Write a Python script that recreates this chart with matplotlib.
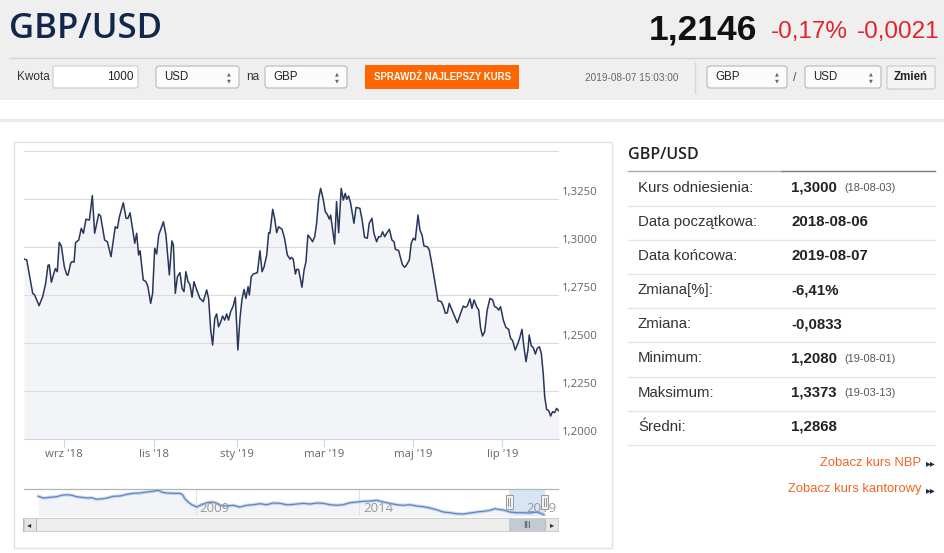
import numpy as np
import matplotlib
matplotlib.use('Agg')
import matplotlib.pyplot as plt
from matplotlib.patches import Rectangle, FancyBboxPatch
from matplotlib.transforms import blended_transform_factory, ScaledTranslation

plt.rcParams['font.family'] = ['Liberation Sans', 'DejaVu Sans']

# ---------- DATA ----------
pair = 'GBP/USD'
last_rate = '1,2146'
change_pct = '-0,17%'
change_abs = '-0,0021'
quote_time = '2019-08-07 15:03:00'

# trading session number (0 = 2018-08-06) and rate
sessions = [0.0, 1.3, 4.1, 5.0, 7.1, 8.8, 10.2, 11.3, 11.9, 12.9, 14.1, 14.8, 15.7, 16.6, 17.6,
            19.0, 20.1, 20.7, 22.0, 22.6, 23.6, 24.3, 25.8, 27.0, 28.0, 29.2, 30.8, 32.2, 33.3,
            35.2, 36.1, 38.0, 39.3, 41.0, 43.0, 44.0, 44.9, 46.8, 48.1, 49.0, 50.0, 52.2, 53.1,
            54.0, 54.7, 56.2, 57.5, 58.4, 59.7, 60.6, 61.6, 62.5,
            63.5, 65.7, 66.9, 68.5, 69.7, 70.4, 71.3, 72.3, 73.5, 74.5, 75.4, 76.3, 77.3, 78.2,
            79.2, 80.1, 81.4, 82.9, 84.5, 86.1, 87.0, 88.0, 88.9, 89.9, 90.8, 91.7, 92.7, 93.6,
            94.6, 95.5, 96.4, 97.4, 98.6, 99.6, 100.8, 101.8, 102.7, 103.7, 104.6, 105.6, 106.2,
            107.1, 108.1, 110.0, 111.2, 112.2, 113.1, 114.4, 115.3, 115.9, 117.2, 118.1, 119.1,
            120.0, 121.6, 122.8, 124.1, 125.4,
            126.0, 126.9, 127.9, 128.5, 129.4, 131.0, 132.0, 132.9, 133.8, 135.1, 136.0, 137.0,
            137.9, 138.9, 139.8, 141.1, 142.0, 142.9, 143.9, 144.5, 145.5, 146.4, 147.3, 148.3,
            149.5, 150.5, 151.4, 152.1, 153.0, 153.9, 154.6, 155.5, 156.5, 158.3, 159.3, 160.5,
            161.8, 162.7, 164.0, 164.9, 166.2, 167.1, 168.1, 169.0, 170.0, 170.9, 172.2, 173.4,
            174.4, 175.0, 176.6, 177.5, 178.4, 179.4, 180.3, 181.6, 182.5, 183.5,
            184.4, 185.7, 186.6, 187.6, 188.5, 190.1, 191.0, 192.3, 193.5, 195.1, 196.7, 197.6,
            198.6, 199.5, 200.4, 201.7, 203.0, 204.2, 205.5, 207.0, 208.0, 208.9, 210.2, 211.1,
            212.1, 213.3, 214.3, 215.2, 216.1, 217.1, 218.3, 219.6, 220.9, 221.8, 222.7, 223.7,
            224.6, 225.9, 227.1, 228.4, 229.3, 230.3, 231.5, 232.8, 233.7, 234.7, 235.6, 236.6,
            237.5, 238.1, 239.1, 240.0, 241.0, 241.9, 242.9, 243.8, 244.7, 245.4, 246.3, 247.3,
            248.2, 249.1, 250.1, 251.0, 252.0]
rates = [1.2939, 1.2934, 1.2760, 1.2752, 1.2696, 1.2743, 1.2812, 1.2906, 1.2909, 1.2818, 1.2865,
         1.2889, 1.2873, 1.3026, 1.3007, 1.2899, 1.2859, 1.2854, 1.2917, 1.2925, 1.2923, 1.3024,
         1.3038, 1.3099, 1.3073, 1.3146, 1.3142, 1.3269, 1.3073, 1.3173, 1.3163, 1.3038, 1.3029,
         1.2951, 1.3107, 1.3099, 1.3156, 1.3232, 1.3151, 1.3151, 1.3180, 1.3021, 1.3073, 1.2960,
         1.2982, 1.2830, 1.2821, 1.2795, 1.2708, 1.2760, 1.2995, 1.2965,
         1.3064, 1.3133, 1.3064, 1.2856, 1.3033, 1.3012, 1.2760, 1.2847, 1.2868, 1.2786, 1.2769,
         1.2873, 1.2821, 1.2807, 1.2740, 1.2821, 1.2778, 1.2734, 1.2717, 1.2778, 1.2734, 1.2569,
         1.2491, 1.2630, 1.2653, 1.2586, 1.2612, 1.2642, 1.2621, 1.2653, 1.2621, 1.2665, 1.2694,
         1.2740, 1.2465, 1.2630, 1.2726, 1.2781, 1.2734, 1.2795, 1.2752, 1.2847, 1.2861, 1.2868,
         1.2982, 1.2873, 1.2896, 1.2960, 1.3076, 1.3073, 1.3198, 1.3151, 1.3076, 1.3107, 1.3094,
         1.3047, 1.2960, 1.2938,
         1.2948, 1.2938, 1.2861, 1.2885, 1.2885, 1.2792, 1.2882, 1.2925, 1.3064, 1.3045, 1.3029,
         1.3055, 1.3125, 1.3255, 1.3307, 1.3246, 1.3185, 1.3172, 1.3147, 1.3168, 1.3090, 1.3017,
         1.3238, 1.3076, 1.3307, 1.3246, 1.3281, 1.3250, 1.3267, 1.3232, 1.3185, 1.3125, 1.3208,
         1.3203, 1.3146, 1.3052, 1.3047, 1.3125, 1.3151, 1.3073, 1.3029, 1.3055, 1.3055, 1.3081,
         1.3055, 1.3073, 1.3094, 1.3038, 1.3029, 1.2990, 1.2982, 1.2943, 1.2908, 1.2896, 1.2908,
         1.2934, 1.3021, 1.3047,
         1.3038, 1.3168, 1.3090, 1.3064, 1.3007, 1.3003, 1.2986, 1.2908, 1.2830, 1.2722, 1.2717,
         1.2694, 1.2656, 1.2659, 1.2708, 1.2673, 1.2639, 1.2607, 1.2647, 1.2694, 1.2687, 1.2694,
         1.2732, 1.2682, 1.2726, 1.2691, 1.2673, 1.2578, 1.2538, 1.2560, 1.2673, 1.2734, 1.2726,
         1.2691, 1.2687, 1.2673, 1.2691, 1.2621, 1.2583, 1.2573, 1.2526, 1.2514, 1.2465, 1.2500,
         1.2531, 1.2573, 1.2482, 1.2404, 1.2465, 1.2543, 1.2486, 1.2479, 1.2444, 1.2474, 1.2482,
         1.2448, 1.2344, 1.2222, 1.2156, 1.2149, 1.2121, 1.2144, 1.2139, 1.2161, 1.2149]

month_pos = [18.7, 61.4, 100.2, 141.4, 183.5, 225.4]
month_labels = ["wrz '18", "lis '18", "sty '19", "mar '19", "maj '19", "lip '19"]
rate_grid = [1.2, 1.225, 1.25, 1.275, 1.3, 1.325, 1.35]
rate_labels = ['1,2000', '1,2250', '1,2500', '1,2750', '1,3000', '1,3250', '']

# navigator: full history
nav_years = [2004.19, 2004.34, 2004.54, 2004.75, 2004.90, 2005.06, 2005.21, 2005.36, 2005.51,
             2005.67, 2005.82, 2005.97, 2006.17, 2006.33, 2006.48, 2006.69, 2006.89, 2007.09,
             2007.30, 2007.50, 2007.70, 2007.86, 2007.96, 2008.11, 2008.32, 2008.52, 2008.60,
             2008.67, 2008.77, 2008.88, 2009.03, 2009.18, 2009.34, 2009.49, 2009.64, 2009.74,
             2009.95, 2010.15, 2010.35, 2010.56, 2010.76, 2010.97, 2011.17, 2011.37, 2011.58,
             2011.78, 2011.88, 2012.09, 2012.29, 2012.50, 2012.70, 2012.90, 2013.11, 2013.31,
             2013.51, 2013.72, 2013.92, 2014.13, 2014.33, 2014.54, 2014.74, 2014.94, 2015.15,
             2015.35, 2015.55, 2015.76, 2015.96, 2016.17, 2016.37, 2016.57, 2016.78, 2016.98,
             2017.18, 2017.39, 2017.59, 2017.80, 2018.00, 2018.15, 2018.25, 2018.41, 2018.61,
             2018.82, 2019.02, 2019.22, 2019.43, 2019.58, 2019.65]
nav_rates = [1.803, 1.747, 1.770, 1.790, 1.836, 1.855, 1.836, 1.790, 1.770, 1.747, 1.757, 1.704,
             1.724, 1.757, 1.803, 1.813, 1.868, 1.901, 1.911, 1.944, 1.967, 2.000, 1.944, 1.911,
             1.901, 1.901, 1.855, 1.724, 1.615, 1.526, 1.451, 1.526, 1.592, 1.615, 1.582, 1.507,
             1.484, 1.507, 1.451, 1.507, 1.526, 1.559, 1.526, 1.582, 1.572, 1.526,
             1.526, 1.549, 1.572, 1.549, 1.582, 1.572, 1.526, 1.507, 1.526, 1.592, 1.615, 1.638,
             1.648, 1.671, 1.615, 1.572, 1.526, 1.507, 1.526, 1.484, 1.461, 1.418, 1.362, 1.286,
             1.263, 1.230, 1.220, 1.253, 1.286, 1.309, 1.342, 1.395, 1.375, 1.352, 1.286, 1.263,
             1.263, 1.253, 1.286, 1.230, 1.187]
nav_year_labels = [2009, 2014, 2019]
range_start, range_end = 2018.59, 2019.68

stat_labels = ['Kurs odniesienia:', 'Data początkowa:', 'Data końcowa:', 'Zmiana[%]:',
               'Zmiana:', 'Minimum:', 'Maksimum:', 'Średni:']
stat_values = ['1,3000', '2018-08-06', '2019-08-07', '-6,41%', '-0,0833', '1,2080', '1,3373',
               '1,2868']
stat_dates = ['(18-08-03)', '', '', '', '', '(19-08-01)', '(19-03-13)', '']
links = ['Zobacz kurs NBP', 'Zobacz kurs kantorowy']

# ---------- PAGE ----------
W, H = 945, 553
fig = plt.figure(figsize=(W / 100, H / 100), dpi=100)
fig.patch.set_facecolor('white')

bg = fig.add_axes([0, 0, 1, 1])
bg.set_xlim(0, W)
bg.set_ylim(H, 0)
bg.axis('off')


def box(x0, y0, x1, y1, fc, ec='none', lw=0.8, r=0, z=1):
    if r:
        p = FancyBboxPatch((x0, y0), x1 - x0, y1 - y0, boxstyle=f'round,pad=0,rounding_size={r}',
                           fc=fc, ec=ec, lw=lw, zorder=z)
    else:
        p = Rectangle((x0, y0), x1 - x0, y1 - y0, fc=fc, ec=ec, lw=lw, zorder=z)
    bg.add_patch(p)


def txt(x, y, s, size, color='#333333', ha='left', va='center', **kw):
    bg.text(x, y, s, fontsize=size, color=color, ha=ha, va=va, zorder=5, **kw)


def select(x0, x1, label):
    box(x0, 66, x1, 88, '#fbfbfb', '#b8b8b8', lw=0.8, r=3)
    txt(x0 + 8, 77.5, label, 8.3, '#222222')
    txt(x1 - 10, 74, '▲', 3.6, '#666666', ha='center', family='DejaVu Sans')
    txt(x1 - 10, 80.5, '▼', 3.6, '#666666', ha='center', family='DejaVu Sans')


# header band
box(0, 0, W, 100, '#efefef', z=0)
bg.plot([10, 935], [57.5, 57.5], color='#d5d5d5', lw=1, zorder=1)
txt(9, 29, pair, 25, '#13264b', family='Open Sans', weight='semibold')
txt(757, 30, last_rate, 25.5, '#111111', ha='right', weight='bold')
txt(771, 32, change_pct, 17.5, '#e3232c')
txt(940, 32, change_abs, 17.5, '#e3232c', ha='right')

# converter row
txt(17, 77.5, 'Kwota', 8.5, '#333333')
box(53, 66, 138, 88, 'white', '#cccccc', lw=0.8, r=2)
txt(134, 77.5, '1000', 8.5, '#222222', ha='right')
select(156, 239, 'USD')
txt(246, 77.5, 'na', 8.5, '#333333')
select(265, 347, 'GBP')
box(365, 65, 519, 89, '#ff6600')
txt(442, 77.5, 'SPRAWDŹ NAJLEPSZY KURS', 6.9, 'white', ha='center', weight='bold')
txt(585, 78, quote_time, 7.2, '#666666')
bg.plot([695, 695], [63, 93], color='#d8d8d8', lw=1, zorder=1)
select(707, 787, 'GBP')
txt(795, 78, '/', 9, '#555555', ha='center')
select(805, 881, 'USD')
box(887, 66, 935, 89, '#f4f4f4', '#c8c8c8', lw=0.8, r=2)
txt(911, 77.5, 'Zmień', 8.3, '#222222', ha='center', weight='bold')

bg.plot([0, W], [120, 120], color='#ececec', lw=2.2, zorder=1)

# chart panel frame
box(13.5, 141.5, 612, 547.5, 'white', '#e2e2e2', lw=1, z=0.5)

# ---------- MAIN CHART ----------
ax = fig.add_axes([24 / W, (H - 439.3) / H, 534.7 / W, 288.0 / H])
ax.set_xlim(0, 252)
ax.set_ylim(1.2, 1.35)
ax.fill_between(sessions, rates, 1.2, color='#f3f4f7', lw=0, zorder=1)
ax.plot(sessions, rates, color='#27365a', lw=1.1, zorder=3, solid_joinstyle='round')
ax.set_yticks(rate_grid)
ax.yaxis.grid(True, color='#dcdcdc', lw=0.8, zorder=2)
ax.tick_params(axis='y', length=0, labelleft=False)
ytr = blended_transform_factory(ax.transAxes, ax.transData)
for v, lab in zip(rate_grid, rate_labels):
    ax.text(1.007, v + 0.0008, lab, transform=ytr, fontsize=8.2, color='#666666',
            ha='left', va='bottom', family='Open Sans')
ax.set_xticks(month_pos)
ax.set_xticklabels(month_labels)
ax.tick_params(axis='x', length=5.5, width=0.8, color='#ccd6eb', labelcolor='#666666',
               labelsize=8.2, pad=1.5)
for lbl in ax.get_xticklabels():
    lbl.set_family('Open Sans')
for side in ['top', 'left', 'right']:
    ax.spines[side].set_visible(False)
ax.spines['bottom'].set_color('#ccd6eb')
ax.spines['bottom'].set_linewidth(0.8)

# ---------- NAVIGATOR ----------
nav_xlim = (2003.75, 2020.08)
nax = fig.add_axes([24 / W, (H - 516.3) / H, 534 / W, 27.6 / H])
nax.set_xlim(*nav_xlim)
nax.set_ylim(1.145, 2.053)
nax.axvspan(range_start, range_end, color='#d6e5f7', zorder=0.5, lw=0)
nax.fill_between(nav_years, nav_rates, 1.145, color='#f2f3f6', alpha=0.85, lw=0, zorder=1)
for yr in nav_year_labels:
    nax.axvline(yr, color='#e3e3e3', lw=0.8, zorder=1.5)
    off = ScaledTranslation(4 / 100, 0, fig.dpi_scale_trans)
    nax.text(yr, 0.28, str(yr), transform=nax.get_xaxis_transform() + off, fontsize=9.5,
             color='#999999', va='center', ha='left', family='Open Sans', zorder=4)
nax.plot(nav_years, nav_rates, color='#a9c0e2', lw=2.4, alpha=0.6, zorder=2)
nax.plot(nav_years, nav_rates, color='#5f86c2', lw=0.9, zorder=3)
yr_per_px = (nav_xlim[1] - nav_xlim[0]) / 534
xtr = nax.get_xaxis_transform()
for edge in (range_start, range_end):
    nax.add_patch(Rectangle((edge - 3.5 * yr_per_px, 0.27), 7 * yr_per_px, 0.51, transform=xtr,
                            fc='#f2f2f2', ec='#999999', lw=0.7, zorder=5, clip_on=False))
    for dx in (-1, 1):
        nax.plot([edge + dx * yr_per_px] * 2, [0.38, 0.66], transform=xtr, color='#888888',
                 lw=0.6, zorder=6, clip_on=False)
nax.set_xticks([])
nax.set_yticks([])
for side in ['bottom', 'left', 'right']:
    nax.spines[side].set_visible(False)
nax.spines['top'].set_color('#b5b5b5')
nax.spines['top'].set_linewidth(0.9)

# ---------- SCROLLBAR ----------
sax = fig.add_axes([24 / W, (H - 531.3) / H, 534 / W, 13.3 / H])
sax.set_xlim(*nav_xlim)
sax.set_ylim(0, 1)
sax.set_facecolor('#eeeeee')
sax.axvspan(range_start, range_end, color='#c3cad3', lw=0)
sax.text((range_start + range_end) / 2, 0.45, 'III', fontsize=6, color='#444444',
         ha='center', va='center', family='DejaVu Sans')
sax.add_patch(Rectangle((-1.3 / 534, 0), 13.3 / 534, 1, transform=sax.transAxes,
                        fc='#e6e6e6', ec='#b8b8b8', lw=0.7, clip_on=False))
sax.text(5.3 / 534, 0.5, '◂', transform=sax.transAxes, fontsize=6, color='#333333',
         ha='center', va='center', family='DejaVu Sans')
sax.add_patch(Rectangle(((534 - 13) / 534, 0), 13.3 / 534, 1, transform=sax.transAxes,
                        fc='#e6e6e6', ec='#b8b8b8', lw=0.7, clip_on=False))
sax.text((534 - 6.3) / 534, 0.5, '▸', transform=sax.transAxes, fontsize=6, color='#333333',
         ha='center', va='center', family='DejaVu Sans')
sax.set_xticks([])
sax.set_yticks([])
for side in sax.spines.values():
    side.set_color('#cccccc')
    side.set_linewidth(0.7)

# ---------- STATS PANEL ----------
txt(628, 155, pair, 11.5, '#222222', family='Open Sans', weight='semibold')
bg.plot([628, 782], [170.5, 170.5], color='#a8a8a8', lw=1, zorder=1)
bg.plot([782, 935], [170.5, 170.5], color='#7a7a7a', lw=1, zorder=1)
row_pitch = 34.2
for i, (lab, val, dt) in enumerate(zip(stat_labels, stat_values, stat_dates)):
    yc = 187.5 + i * row_pitch
    txt(638, yc, lab, 10.8, '#333333')
    txt(791, yc, val, 10.8, '#222222', weight='bold')
    if dt:
        txt(844, yc + 0.5, dt, 7.9, '#555555')
    bg.plot([628, 935], [yc + 18, yc + 18], color='#e6e6e6', lw=1, zorder=1)
for j, link in enumerate(links):
    yl = 463 + j * 26.3
    txt(921, yl, link, 9.4, '#f26522', ha='right')
    txt(930.5, yl + 0.5, '▸▸', 7, '#1b2a48', ha='center', family='DejaVu Sans')

fig.savefig('out.png', dpi=100)
